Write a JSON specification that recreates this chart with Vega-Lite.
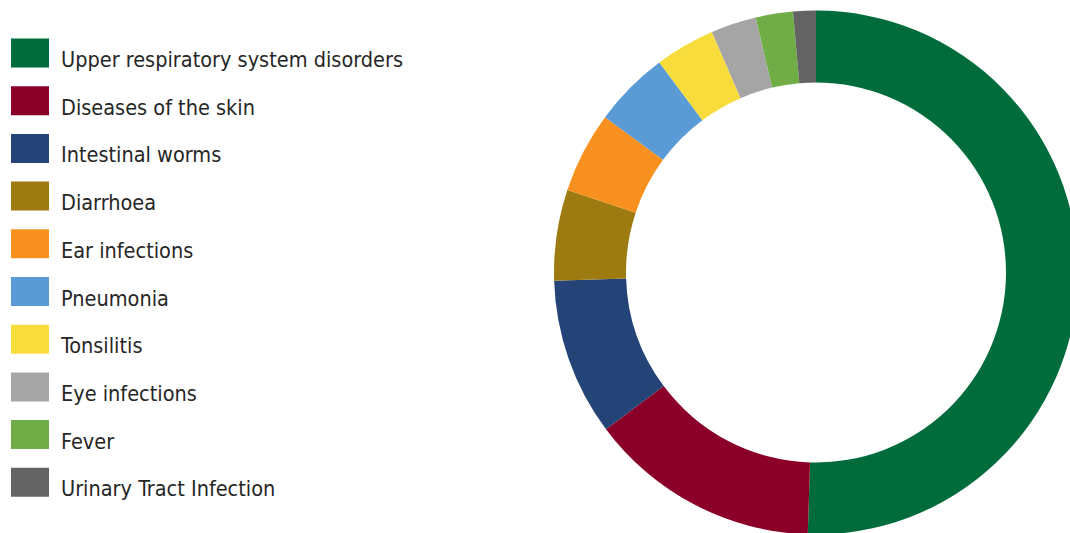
{
  "$schema": "https://vega.github.io/schema/vega-lite/v6.json",
  "width": 508,
  "height": 521,
  "autosize": {"type": "none"},
  "padding": {"left": 562, "top": 12, "right": 0, "bottom": 0},
  "background": "white",
  "view": {"stroke": null},
  "data": {
    "values": [
      {"rank": 1, "category": "Upper respiratory system disorders", "share": 50.5},
      {"rank": 2, "category": "Diseases of the skin", "share": 14.3},
      {"rank": 3, "category": "Intestinal worms", "share": 9.7},
      {"rank": 4, "category": "Diarrhoea", "share": 5.6},
      {"rank": 5, "category": "Ear infections", "share": 5.0},
      {"rank": 6, "category": "Pneumonia", "share": 4.7},
      {"rank": 7, "category": "Tonsilitis", "share": 3.7},
      {"rank": 8, "category": "Eye infections", "share": 2.8},
      {"rank": 9, "category": "Fever", "share": 2.3},
      {"rank": 10, "category": "Urinary Tract Infection", "share": 1.4}
    ]
  },
  "mark": {"type": "arc", "innerRadius": 190, "outerRadius": 262},
  "encoding": {
    "theta": {"field": "share", "type": "quantitative", "stack": true},
    "order": {"field": "rank", "type": "quantitative", "sort": "ascending"},
    "color": {
      "field": "category",
      "type": "nominal",
      "scale": {
        "domain": ["Upper respiratory system disorders", "Diseases of the skin", "Intestinal worms", "Diarrhoea", "Ear infections", "Pneumonia", "Tonsilitis", "Eye infections", "Fever", "Urinary Tract Infection"],
        "range": ["#006C3B", "#8B0029", "#244478", "#9E7B10", "#F7901E", "#5B9BD5", "#F8DC3C", "#A5A5A5", "#70AD47", "#636363"]
      },
      "legend": {
        "orient": "none",
        "legendX": -551,
        "legendY": 30,
        "title": null,
        "symbolType": "M-1,-1.184H1V0.342H-1Z",
        "symbolSize": 1444,
        "symbolStrokeWidth": 0,
        "symbolOpacity": 1,
        "labelFont": "DejaVu Sans Condensed, Roboto",
        "labelFontSize": 21.5,
        "labelColor": "#262626",
        "labelOffset": 12,
        "labelLimit": 500,
        "rowPadding": 13.7
      }
    }
  }
}
